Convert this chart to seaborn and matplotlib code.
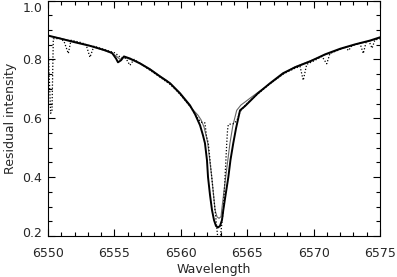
import matplotlib
matplotlib.use("Agg")
import matplotlib.pyplot as plt
from matplotlib.ticker import MultipleLocator
import matplotlib.transforms as mtrans
import seaborn as sns
import pandas as pd

# Model 1 (thick solid)
wl_model1 = [6550.00, 6550.90, 6552.03, 6553.16, 6554.29, 6554.82, 6555.12, 6555.27,
             6555.50, 6555.72, 6556.17, 6556.93, 6557.68, 6558.43, 6559.19, 6559.94,
             6560.69, 6561.07, 6561.45, 6561.67, 6561.82, 6561.97, 6562.05, 6562.20,
             6562.35, 6562.50, 6562.65, 6562.80, 6562.95, 6563.10, 6563.20, 6563.37,
             6563.58, 6563.74, 6563.95, 6564.16, 6564.46, 6564.83, 6565.21, 6565.81,
             6566.72, 6567.70, 6568.60, 6569.73, 6570.86, 6571.99, 6573.12, 6574.25,
             6575.00]
int_model1 = [0.881, 0.871, 0.858, 0.846, 0.831, 0.822, 0.803, 0.790,
              0.797, 0.810, 0.803, 0.786, 0.766, 0.742, 0.719, 0.685,
              0.644, 0.614, 0.576, 0.542, 0.515, 0.458, 0.400, 0.339,
              0.288, 0.254, 0.234, 0.229, 0.234, 0.254, 0.288, 0.339,
              0.400, 0.458, 0.515, 0.566, 0.627, 0.641, 0.658, 0.685,
              0.719, 0.753, 0.773, 0.793, 0.817, 0.836, 0.851, 0.864,
              0.875]

# Model 2 (thin grey)
wl_model2 = [6550.00, 6550.90, 6552.03, 6553.16, 6554.29, 6554.82, 6555.12, 6555.42,
             6555.72, 6556.17, 6556.55, 6556.93, 6557.68, 6558.43, 6558.96, 6559.34,
             6559.94, 6560.69, 6561.30, 6561.52, 6561.75, 6561.90, 6562.03, 6562.33,
             6562.58, 6562.73, 6562.88, 6563.03, 6563.08, 6563.38, 6563.70, 6563.92,
             6564.21, 6564.53, 6564.83, 6565.21, 6565.81, 6566.34, 6566.72, 6567.70,
             6568.22, 6568.60, 6569.73, 6570.86, 6571.99, 6573.12, 6574.25, 6575.00]
int_model2 = [0.879, 0.872, 0.860, 0.847, 0.829, 0.820, 0.812, 0.800,
              0.808, 0.800, 0.795, 0.788, 0.768, 0.744, 0.728, 0.712,
              0.682, 0.640, 0.610, 0.595, 0.570, 0.542, 0.515, 0.400,
              0.288, 0.265, 0.260, 0.266, 0.288, 0.400, 0.515, 0.575,
              0.627, 0.645, 0.655, 0.668, 0.688, 0.705, 0.717, 0.750,
              0.765, 0.775, 0.795, 0.815, 0.834, 0.850, 0.862, 0.873]

# Observed (dotted)
wl_obs = [6550.02, 6550.20, 6550.30, 6550.40, 6550.90, 6551.20, 6551.53, 6551.73,
          6552.41, 6552.86, 6553.16, 6553.46, 6553.92, 6554.67, 6555.05, 6555.42,
          6555.87, 6556.17, 6556.48, 6556.93, 6557.68, 6558.43, 6559.19, 6559.94,
          6560.69, 6561.22, 6561.50, 6561.82, 6561.93, 6562.07, 6562.33, 6562.58,
          6562.77, 6562.88, 6562.99, 6563.20, 6563.33, 6563.46, 6563.52, 6563.58,
          6564.01, 6564.23, 6564.46, 6564.83, 6565.21, 6565.81, 6566.72, 6567.70,
          6568.60, 6568.98, 6569.22, 6569.48, 6570.11, 6570.63, 6570.99, 6571.23,
          6571.99, 6572.36, 6572.63, 6572.89, 6573.49, 6573.74, 6573.95, 6574.17,
          6574.40, 6574.62, 6575.00]
int_obs = [0.830, 0.617, 0.625, 0.870, 0.871, 0.862, 0.820, 0.865,
           0.858, 0.851, 0.807, 0.845, 0.838, 0.827, 0.822, 0.808,
           0.803, 0.780, 0.800, 0.787, 0.763, 0.740, 0.715, 0.682,
           0.641, 0.604, 0.587, 0.584, 0.540, 0.515, 0.400, 0.288,
           0.200, 0.190, 0.200, 0.288, 0.400, 0.515, 0.560, 0.579,
           0.582, 0.593, 0.622, 0.643, 0.660, 0.683, 0.717, 0.750,
           0.770, 0.776, 0.729, 0.783, 0.797, 0.810, 0.785, 0.820,
           0.834, 0.843, 0.830, 0.847, 0.855, 0.820, 0.858, 0.862,
           0.838, 0.866, 0.870]

x_ticks = [6550, 6555, 6560, 6565, 6570, 6575]
y_ticks = [0.2, 0.4, 0.6, 0.8, 1.0]

sns.set_style("ticks")
plt.rcParams['font.family'] = ['DejaVu Sans']

fig = plt.figure(figsize=(3.97, 2.77), dpi=100)
ax = fig.add_axes([48/397, 41/277, 332/397, 235.5/277])

df1 = pd.DataFrame({"wl": wl_model1, "I": int_model1})
df2 = pd.DataFrame({"wl": wl_model2, "I": int_model2})
df3 = pd.DataFrame({"wl": wl_obs, "I": int_obs})

sns.lineplot(data=df2, x="wl", y="I", ax=ax, sort=False, estimator=None,
             color="#666666", lw=0.8)
sns.lineplot(data=df1, x="wl", y="I", ax=ax, sort=False, estimator=None,
             color="black", lw=1.4)
sns.lineplot(data=df3, x="wl", y="I", ax=ax, sort=False, estimator=None,
             color="black", lw=0.9, linestyle=(0, (1, 1.5)))

ax.set_xlim(6550, 6575)
ax.set_ylim(0.2, 1.0)
ax.set_xticks(x_ticks)
ax.set_yticks(y_ticks)
ax.set_yticklabels([f"{v:.1f}" for v in y_ticks])
ax.xaxis.set_minor_locator(MultipleLocator(1))
ax.yaxis.set_minor_locator(MultipleLocator(0.05))
ax.tick_params(which="both", direction="in", top=True, right=True, width=0.8,
               color="black", labelsize=9)
ax.tick_params(which="major", length=5)
ax.tick_params(which="minor", length=3)
ax.tick_params(axis="x", which="major", pad=8)
ax.tick_params(axis="y", which="major", pad=4)
for s in ax.spines.values():
    s.set_linewidth(0.8)
    s.set_color("black")
ax.set_xlabel("Wavelength", fontsize=9, labelpad=2)
ax.set_ylabel("Residual intensity", fontsize=9, labelpad=4)

# shift end labels inward, as in the reference
labels = ax.get_yticklabels()
labels[-1].set_transform(labels[-1].get_transform() +
                         mtrans.ScaledTranslation(0, -7/100, fig.dpi_scale_trans))
labels[0].set_transform(labels[0].get_transform() +
                        mtrans.ScaledTranslation(0, 4/100, fig.dpi_scale_trans))

fig.savefig("out.png", dpi=100)
